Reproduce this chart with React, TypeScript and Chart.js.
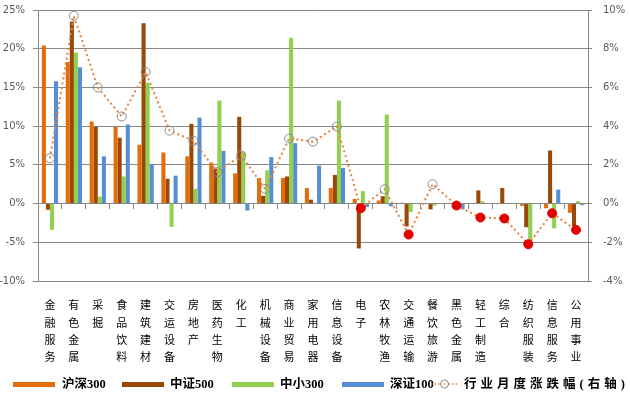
import React, { useEffect, useRef } from 'react';
import { Chart, registerables } from 'chart.js';

Chart.register(...registerables);

const categories = ['金融服务', '有色金属', '采掘', '食品饮料', '建筑建材', '交运设备', '房地产', '医药生物', '化工', '机械设备', '商业贸易', '家用电器', '信息设备', '电子', '农林牧渔', '交通运输', '餐饮旅游', '黑色金属', '轻工制造', '综合', '纺织服装', '信息服务', '公用事业'];

const hs300 = [20.4, 18.3, 10.6, 9.9, 7.6, 6.6, 6.1, 5.3, 3.9, 3.3, 3.3, 2.0, 2.0, 0.6, 0.4, 0.1, 0.0, 0.05, 0.0, -0.05, -0.3, -0.6, -1.2];
const zz500 = [-0.8, 23.5, 9.9, 8.5, 23.3, 3.2, 10.3, 4.5, 11.2, 1.0, 3.5, 0.5, 3.7, -5.8, 0.95, -2.95, -0.75, 0.05, 1.7, 2.0, -3.05, 6.85, -2.95];
const zx300 = [-3.4, 19.5, 0.9, 3.5, 15.6, -3.0, 1.9, 13.3, 6.7, 4.3, 21.4, 0.1, 13.3, 1.6, 11.5, -1.1, -0.25, 0.0, 0.3, 0.0, -5.4, -3.2, 0.3];
const sz100 = [15.8, 17.6, 6.1, 10.2, 5.0, 3.6, 11.1, 6.8, -0.9, 6.0, 7.8, 4.9, 4.6, -0.45, -0.35, 0.05, 0.0, -0.75, 0.0, 0.0, 0.0, 1.8, -0.2];
const monthly = [2.34, 9.7, 6.0, 4.5, 6.8, 3.77, 3.24, 1.62, 2.48, 0.76, 3.36, 3.2, 3.98, -0.24, 0.74, -1.6, 1.0, -0.1, -0.72, -0.77, -2.1, -0.5, -1.36];

const leftTicks = { min: -10, max: 25, step: 5 };
const rightTicks = { min: -4, max: 10, step: 2 };

const seriesNames = ['沪深300', '中证500', '中小300', '深证100', '行业月度涨跌幅(右轴)'];
const seriesColors = ['#E46C0A', '#984807', '#92D050', '#558ED5', '#E8823A'];

const GRID = '#878787';
const CJK = '"Noto Sans CJK SC", sans-serif';
const LEG = '"Liberation Serif", "Noto Sans CJK SC", serif';

export default function App() {
  const ref = useRef<HTMLCanvasElement>(null);

  useEffect(() => {
    if (!ref.current) return;
    const barSets = [hs300, zz500, zx300, sz100].map((d, i) => ({
      type: 'bar' as const,
      label: seriesNames[i],
      data: d,
      backgroundColor: seriesColors[i],
      borderWidth: 0,
      xAxisID: 'x',
      yAxisID: 'y',
      barPercentage: 1,
      categoryPercentage: 0.68,
      order: 2,
    }));
    const chart = new Chart(ref.current, {
      type: 'bar',
      data: {
        labels: categories.map((c) => c.split('')),
        datasets: [
          ...barSets,
          {
            type: 'line' as const,
            label: seriesNames[4],
            data: monthly,
            borderColor: seriesColors[4],
            borderWidth: 2,
            borderDash: [2, 3],
            fill: false,
            tension: 0,
            xAxisID: 'x',
            yAxisID: 'y1',
            pointRadius: 4.5,
            pointBorderWidth: 1,
            pointBackgroundColor: monthly.map((v) => (v < 0 ? '#E50000' : 'rgba(0,0,0,0)')),
            pointBorderColor: monthly.map((v) => (v < 0 ? '#E50000' : '#8A8A8A')),
            order: 0,
          } as any,
        ],
      },
      options: {
        responsive: false,
        animation: false,
        layout: { padding: { top: 10, left: 0, right: 0, bottom: 0 } },
        plugins: { legend: { display: false }, tooltip: { enabled: false } },
        scales: {
          x: {
            type: 'category',
            offset: true,
            grid: { display: false, drawTicks: false },
            border: { display: false },
            ticks: {
              autoSkip: false,
              maxRotation: 0,
              minRotation: 0,
              padding: 15.5,
              color: '#000',
              font: { family: CJK, size: 11, lineHeight: '17.3px' },
            },
            afterFit: (s: any) => { s.height = 112; },
          },
          x2: {
            type: 'category',
            position: { y: 0 } as any,
            offset: true,
            grid: { offset: true, drawOnChartArea: false, drawTicks: true, tickLength: 5, color: GRID },
            border: { display: true, color: GRID },
            ticks: { display: false },
          },
          y: {
            position: 'left',
            min: leftTicks.min,
            max: leftTicks.max,
            ticks: {
              stepSize: leftTicks.step,
              padding: 8,
              color: '#595959',
              font: { family: '"DejaVu Sans", sans-serif', size: 10 },
              callback: (v: any) => v + '%',
            },
            grid: { color: GRID, tickLength: 5, drawTicks: true },
            border: { display: true, color: GRID },
            afterFit: (s: any) => { s.width = 38; s.paddingTop = 0; s.paddingBottom = 0; },
          },
          y1: {
            position: 'right',
            min: rightTicks.min,
            max: rightTicks.max,
            ticks: {
              stepSize: rightTicks.step,
              padding: 11,
              color: '#595959',
              font: { family: '"DejaVu Sans", sans-serif', size: 10 },
              callback: (v: any) => v + '%',
            },
            grid: { drawOnChartArea: false, color: GRID, tickLength: 4, drawTicks: true },
            border: { display: true, color: GRID },
            afterFit: (s: any) => { s.width = 42; s.paddingTop = 0; s.paddingBottom = 0; },
          },
        },
      } as any,
    });
    return () => chart.destroy();
  }, []);

  const legendItems = [
    { sw: 13, tx: 62 },
    { sw: 122, tx: 170 },
    { sw: 232, tx: 280 },
    { sw: 342, tx: 390 },
  ];

  return (
    <div style={{ position: 'absolute', left: 0, top: 0, width: 630, height: 393, background: '#fff' }}>
      <canvas ref={ref} width={630} height={393} style={{ display: 'block' }} />
      {legendItems.map((it, i) => (
        <React.Fragment key={i}>
          <div style={{ position: 'absolute', left: it.sw, top: 382, width: 42, height: 5, background: seriesColors[i] }} />
          <div style={{ position: 'absolute', left: it.tx, top: 376, fontFamily: LEG, fontWeight: 700, fontSize: 12.5, lineHeight: '16px', color: '#000', whiteSpace: 'nowrap' }}>
            {seriesNames[i]}
          </div>
        </React.Fragment>
      ))}
      <svg style={{ position: 'absolute', left: 431, top: 379 }} width={27} height={10}>
        <line x1={0} y1={5} x2={27} y2={5} stroke={seriesColors[4]} strokeWidth={1.5} strokeDasharray="1.5 2" />
        <circle cx={13.5} cy={5} r={4} fill="#fff" stroke="#8A8A8A" strokeWidth={1} />
        <circle cx={13.5} cy={5} r={0.8} fill={seriesColors[4]} />
      </svg>
      <div style={{ position: 'absolute', left: 464, top: 376, fontFamily: LEG, fontWeight: 700, fontSize: 12.5, lineHeight: '16px', letterSpacing: '4px', color: '#000', whiteSpace: 'nowrap' }}>
        {seriesNames[4]}
      </div>
    </div>
  );
}
